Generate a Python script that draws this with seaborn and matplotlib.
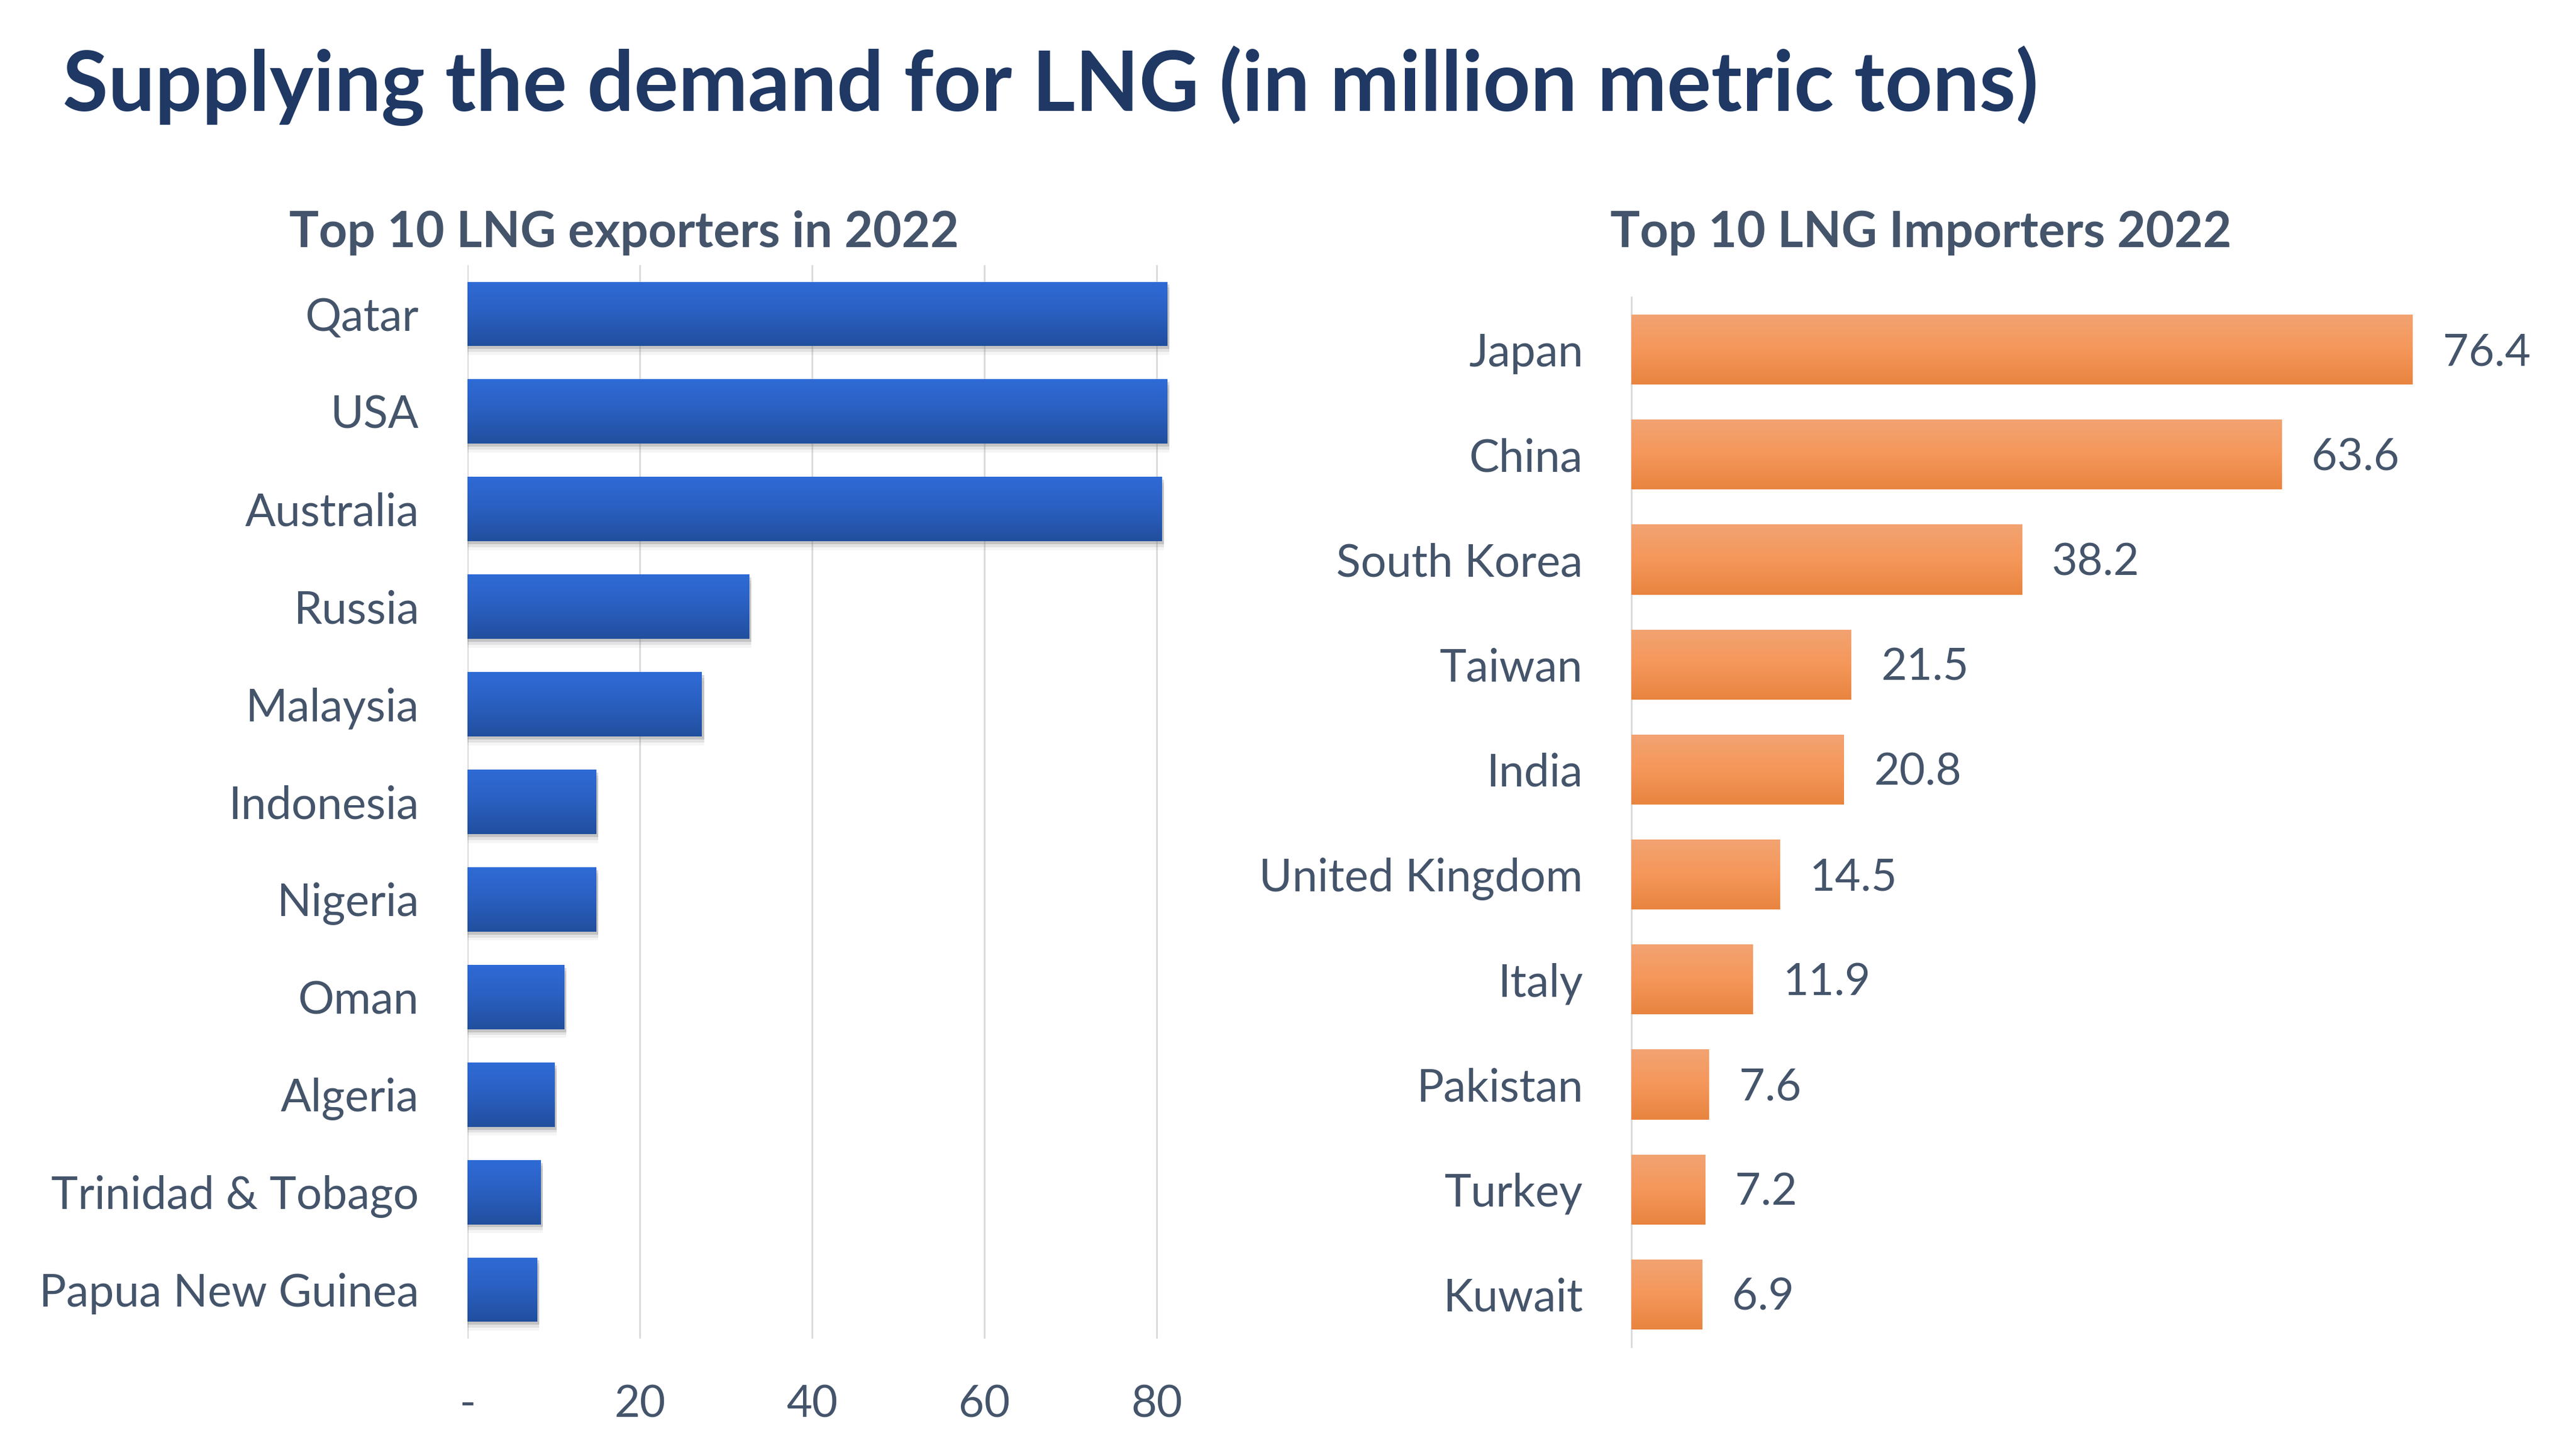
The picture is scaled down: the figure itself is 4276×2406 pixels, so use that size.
import numpy as np
import pandas as pd
import matplotlib
matplotlib.use("Agg")
import matplotlib.pyplot as plt
import seaborn as sns
from matplotlib.patches import Rectangle
from matplotlib.colors import to_rgb

# ---------------- data ----------------
title_text = "Supplying the demand for LNG (in million metric tons)"
exp_title = "Top 10 LNG exporters in 2022"
imp_title = "Top 10 LNG Importers 2022"

exporters = ["Qatar", "USA", "Australia", "Russia", "Malaysia", "Indonesia",
             "Nigeria", "Oman", "Algeria", "Trinidad & Tobago", "Papua New Guinea"]
export_values = [81.2, 81.2, 80.6, 32.7, 27.2, 14.9, 14.9, 11.2, 10.1, 8.5, 8.1]

importers = ["Japan", "China", "South Korea", "Taiwan", "India",
             "United Kingdom", "Italy", "Pakistan", "Turkey", "Kuwait"]
import_values = [76.4, 63.6, 38.2, 21.5, 20.8, 14.5, 11.9, 7.6, 7.2, 6.9]

export_ticks = [0, 20, 40, 60, 80]
export_tick_labels = ["-", "20", "40", "60", "80"]

# ---------------- style ----------------
sns.set_theme(style="white")
plt.rcParams['font.family'] = ['Lato', 'DejaVu Sans']

TITLE_C = "#1F3864"
TEXT_C = "#44546A"
GRID_C = "#D9D9D9"
BLUE_STOPS = ["#2F6BD6", "#2A5FC0", "#214F9E"]
ORANGE_STOPS = ["#F2A372", "#F5975A", "#E8843F"]

W, H, DPI = 4276, 2406, 100
fig = plt.figure(figsize=(W / DPI, H / DPI), dpi=DPI)


def px_axes(x0, top, x1, bottom):
    return fig.add_axes([x0 / W, 1 - bottom / H, (x1 - x0) / W, (bottom - top) / H])


def gradient_img(stops, n=256):
    cols = np.array([to_rgb(c) for c in stops])
    t = np.linspace(0, 1, n)
    pos = np.linspace(0, 1, len(stops))
    img = np.stack([np.interp(t, pos, cols[:, k]) for k in range(3)], axis=1)
    return img[:, None, :]


def gradient_fill(ax, patches, stops):
    img = gradient_img(stops)
    for p in patches:
        x0, y0 = p.get_x(), p.get_y()
        w, h = p.get_width(), p.get_height()
        im = ax.imshow(img, extent=(x0, x0 + w, y0 + h, y0), origin='upper',
                       aspect='auto', zorder=p.get_zorder() + 0.1,
                       interpolation='bilinear')
        im.set_clip_path(p)
        p.set_edgecolor('none')


# ---------------- left: exporters ----------------
axL = px_axes(776, 440, 776 + 85 * 14.3, 2221)
df_exp = pd.DataFrame({"country": exporters, "value": export_values})
sns.barplot(data=df_exp, x="value", y="country", orient="h", ax=axL,
            color=BLUE_STOPS[1], width=0.66, errorbar=None, zorder=3)
bars_L = list(axL.patches)
# soft shadow below bars
for p in bars_L:
    for dy, a in [(0.03, 0.30), (0.06, 0.16), (0.09, 0.07)]:
        axL.add_patch(Rectangle((p.get_x(), p.get_y() + dy),
                                p.get_width() + 0.25, p.get_height(),
                                facecolor="#7F7F7F", alpha=a, edgecolor='none',
                                zorder=2))
gradient_fill(axL, bars_L, BLUE_STOPS)

axL.set_xlim(0, 85)
axL.set_ylim(len(exporters) - 0.5, -0.5)
axL.set_xticks(export_ticks)
axL.set_xticklabels(export_tick_labels)
axL.grid(axis='x', color=GRID_C, linewidth=2, zorder=0)
axL.grid(axis='y', visible=False)
axL.set_axisbelow(True)
for s in axL.spines.values():
    s.set_visible(False)
axL.set_xlabel("")
axL.set_ylabel("")
axL.tick_params(axis='y', length=0, pad=58, labelsize=54, labelcolor=TEXT_C)
axL.tick_params(axis='x', length=0, pad=55, labelsize=53, labelcolor=TEXT_C)

# ---------------- right: importers ----------------
axR = px_axes(2708, 493, 2708 + 90 * 16.97, 2235)
df_imp = pd.DataFrame({"country": importers, "value": import_values})
sns.barplot(data=df_imp, x="value", y="country", orient="h", ax=axR,
            color=ORANGE_STOPS[1], width=0.667, errorbar=None, zorder=3)
bars_R = list(axR.patches)
gradient_fill(axR, bars_R, ORANGE_STOPS)
vlabels = axR.bar_label(axR.containers[0], fmt="%.1f", padding=36,
                        fontsize=53, color=TEXT_C)
for t in vlabels:
    t.xyann = (36, -4)

axR.set_xlim(0, 90)
axR.set_ylim(len(importers) - 0.5, -0.5)
axR.set_xticks([])
axR.grid(False)
for k, s in axR.spines.items():
    s.set_visible(k == 'left')
axR.spines['left'].set_color(GRID_C)
axR.spines['left'].set_linewidth(2)
axR.set_xlabel("")
axR.set_ylabel("")
axR.tick_params(axis='y', length=0, pad=58, labelsize=54, labelcolor=TEXT_C)

# ---------------- titles ----------------
fig.text(104 / W, 1 - 184 / H, title_text, fontsize=99, fontweight='bold',
         color=TITLE_C, ha='left', va='baseline')
fig.text(1036 / W, 1 - 410 / H, exp_title, fontsize=59, fontweight='bold',
         color=TEXT_C, ha='center', va='baseline')
fig.text(3189 / W, 1 - 410 / H, imp_title, fontsize=59, fontweight='bold',
         color=TEXT_C, ha='center', va='baseline')

fig.savefig("out.png", dpi=DPI, facecolor='white')
